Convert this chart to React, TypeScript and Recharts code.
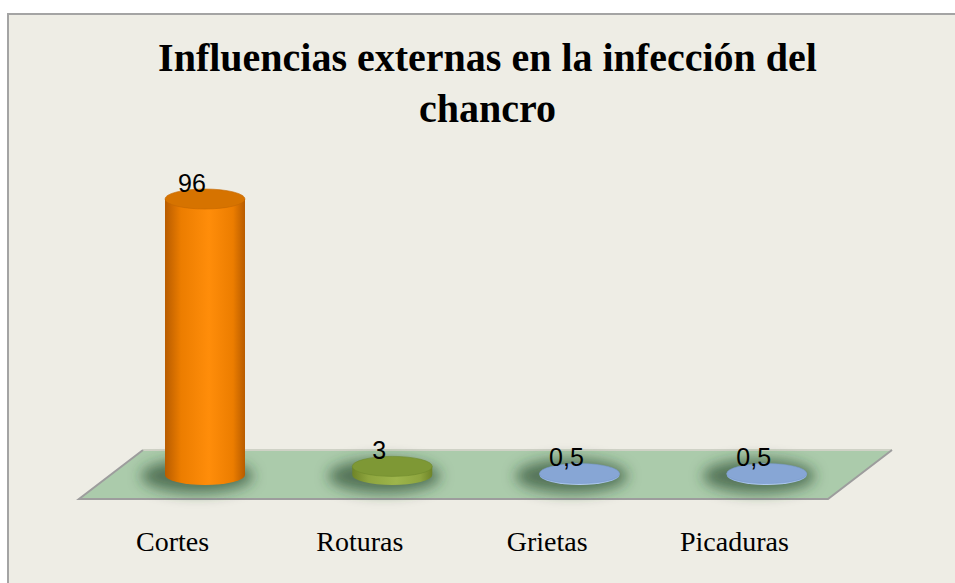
import React from 'react';
import { BarChart, Bar, XAxis, YAxis, LabelList } from 'recharts';

const categories = ['Cortes', 'Roturas', 'Grietas', 'Picaduras'];
const values = [96, 3, 0.5, 0.5];
const yTicks = [0, 20, 40, 60, 80, 100];

const W = 955;
const H = 583;
const PLOT_LEFT = 79;
const PLOT_RIGHT = 828;
const PLOT_TOP = 187.5;
const BASE_Y = 475;
const DEPTH_X = 64;
const DEPTH_Y = 49;
const BAR_SHIFT = 32;
const RY = 10;

const palette = [
  { dark: '#b85c00', mid: '#ec7d00', light: '#ff8d0a', top: '#d67300', topEdge: '#c26600' },
  { dark: '#6e8428', mid: '#8ea53e', light: '#9db54c', top: '#7e9835', topEdge: '#6f8a2c' },
  { dark: '#8eaedb', mid: '#a5c1ea', light: '#b2cdf0', top: '#87a6d5', topEdge: '#7b9bcc' },
  { dark: '#8eaedb', mid: '#a5c1ea', light: '#b2cdf0', top: '#87a6d5', topEdge: '#7b9bcc' },
];

const data = categories.map((name, i) => ({ name, value: values[i] }));

const Cylinder = (props: any) => {
  const { x, y, width, height, index } = props;
  const c = palette[index % palette.length];
  const left = x + BAR_SHIFT;
  const rx = width / 2;
  const cx = left + rx;
  const base = y + height;
  const id = `cyl-${index}`;
  return (
    <g>
      <defs>
        <linearGradient id={id} x1="0" y1="0" x2="1" y2="0">
          <stop offset="0%" stopColor={c.dark} />
          <stop offset="20%" stopColor={c.mid} />
          <stop offset="55%" stopColor={c.light} />
          <stop offset="85%" stopColor={c.mid} />
          <stop offset="100%" stopColor={c.dark} />
        </linearGradient>
        <filter id={`${id}-blur`} x="-50%" y="-150%" width="200%" height="400%">
          <feGaussianBlur stdDeviation="7" />
        </filter>
      </defs>
      <ellipse
        cx={cx - 8}
        cy={base + 1}
        rx={rx + 16}
        ry={RY + 7}
        fill="rgba(35,70,40,0.65)"
        filter={`url(#${id}-blur)`}
      />
      <path
        d={`M${left},${y} L${left},${base} A${rx},${RY} 0 0 0 ${left + width},${base} L${left + width},${y} Z`}
        fill={`url(#${id})`}
      />
      <ellipse cx={cx} cy={y} rx={rx} ry={RY} fill={c.top} stroke={c.topEdge} strokeWidth={0.6} />
    </g>
  );
};

const ValueLabel = (props: any) => {
  const { x, y, width, value } = props;
  return (
    <text
      x={x + BAR_SHIFT + width / 2 - 13}
      y={y - 7.5}
      textAnchor="middle"
      fontFamily="'Liberation Sans', Arial, sans-serif"
      fontSize={25}
      fill="#000"
    >
      {String(value).replace('.', ',')}
    </text>
  );
};

const CategoryTick = (props: any) => {
  const { x, payload } = props;
  return (
    <text
      x={x}
      y={551}
      textAnchor="middle"
      fontFamily="'Liberation Serif', 'Times New Roman', serif"
      fontSize={28}
      fill="#000"
    >
      {payload.value}
    </text>
  );
};

export default function App() {
  const floor = [
    [PLOT_LEFT + DEPTH_X, BASE_Y - 25],
    [PLOT_RIGHT + DEPTH_X, BASE_Y - 25],
    [PLOT_RIGHT, BASE_Y - 25 + DEPTH_Y],
    [PLOT_LEFT, BASE_Y - 25 + DEPTH_Y],
  ];
  const pts = floor.map((p) => p.join(',')).join(' ');

  return (
    <div style={{ position: 'absolute', left: 0, top: 0, width: W, height: H, overflow: 'hidden' }}>
      <div
        style={{
          position: 'absolute',
          left: 7,
          top: 13,
          width: 975,
          height: 620,
          border: '2px solid #a4a4a4',
          background: '#eeede5',
          boxSizing: 'border-box',
        }}
      />
      <svg width={W} height={H} style={{ position: 'absolute', left: 0, top: 0 }}>
        <text
          x={487.5}
          y={71}
          textAnchor="middle"
          fontFamily="'Liberation Serif', 'Times New Roman', serif"
          fontWeight="bold"
          fontSize={40}
          fill="#000"
        >
          Influencias externas en la infección del
        </text>
        <text
          x={487.5}
          y={122}
          textAnchor="middle"
          fontFamily="'Liberation Serif', 'Times New Roman', serif"
          fontWeight="bold"
          fontSize={40}
          fill="#000"
        >
          chancro
        </text>
        <polygon points={pts} fill="#abcbab" />
        <line x1={floor[0][0]} y1={floor[0][1]} x2={floor[1][0]} y2={floor[1][1]} stroke="#cfd2c6" strokeWidth={2} />
        <polyline
          points={`${floor[0][0]},${floor[0][1]} ${floor[3][0]},${floor[3][1]} ${floor[2][0]},${floor[2][1]} ${floor[1][0]},${floor[1][1]}`}
          fill="none"
          stroke="#9d9d9d"
          strokeWidth={2}
        />
      </svg>
      <div style={{ position: 'absolute', left: 0, top: 0 }}>
        <BarChart
          width={W}
          height={H}
          data={data}
          margin={{ top: PLOT_TOP, right: W - PLOT_RIGHT, bottom: H - BASE_Y - 30, left: PLOT_LEFT }}
          barSize={80}
        >
          <XAxis dataKey="name" axisLine={false} tickLine={false} height={30} tick={<CategoryTick />} interval={0} />
          <YAxis hide domain={[0, 100]} ticks={yTicks} />
          <Bar dataKey="value" shape={<Cylinder />} isAnimationActive={false}>
            <LabelList dataKey="value" content={<ValueLabel />} />
          </Bar>
        </BarChart>
      </div>
    </div>
  );
}
